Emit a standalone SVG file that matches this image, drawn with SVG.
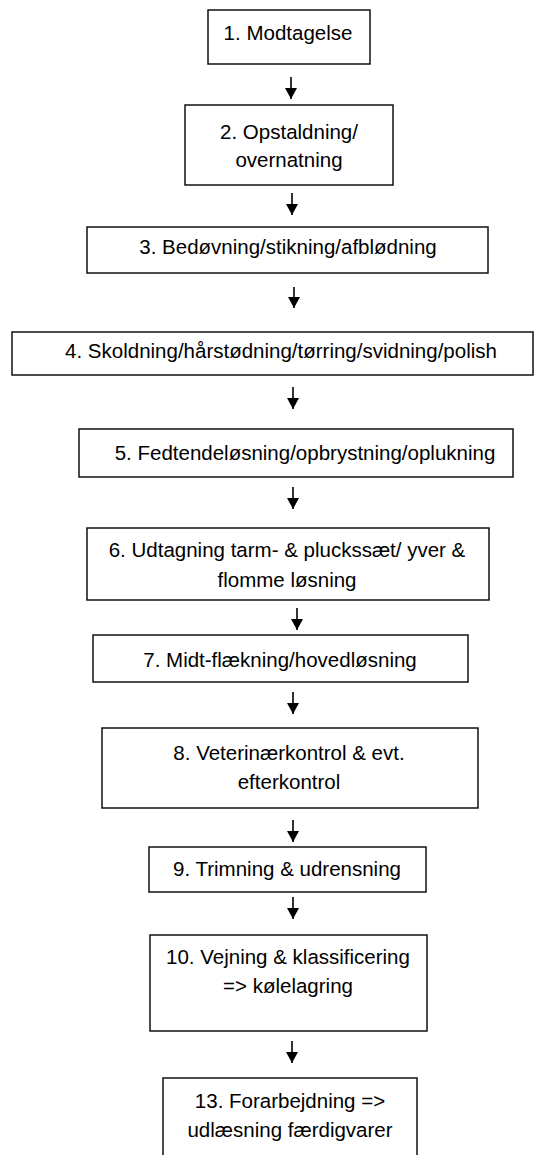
<svg xmlns="http://www.w3.org/2000/svg" width="534" height="1155" viewBox="0 0 534 1155">
<style>
  .box { fill: #ffffff; stroke: #111111; stroke-width: 1.5; }
  .lbl { font-family: "Liberation Sans", Arial, sans-serif; font-size: 20.5px; fill: #000000; text-anchor: middle; }
  .conn { stroke: #000000; stroke-width: 1.6; fill: none; }
</style>
<defs>
  <marker id="ah" viewBox="0 0 11 12" refX="11" refY="6" markerWidth="11" markerHeight="12" markerUnits="userSpaceOnUse" orient="auto">
    <path d="M0,0 L11,6 L0,12 z" fill="#000000"/>
  </marker>
</defs>
<rect x="0" y="0" width="534" height="1155" fill="#ffffff"/>

<g id="connectors">
  <line class="conn" x1="291" y1="77" x2="291" y2="99" marker-end="url(#ah)"/>
  <line class="conn" x1="292" y1="193" x2="292" y2="215" marker-end="url(#ah)"/>
  <line class="conn" x1="294" y1="287" x2="294" y2="308" marker-end="url(#ah)"/>
  <line class="conn" x1="293" y1="387" x2="293" y2="409" marker-end="url(#ah)"/>
  <line class="conn" x1="293" y1="487" x2="293" y2="509" marker-end="url(#ah)"/>
  <line class="conn" x1="297" y1="608" x2="297" y2="630" marker-end="url(#ah)"/>
  <line class="conn" x1="293" y1="692" x2="293" y2="714" marker-end="url(#ah)"/>
  <line class="conn" x1="293" y1="820" x2="293" y2="842" marker-end="url(#ah)"/>
  <line class="conn" x1="293" y1="897" x2="293" y2="919" marker-end="url(#ah)"/>
  <line class="conn" x1="292" y1="1041" x2="292" y2="1063" marker-end="url(#ah)"/>
</g>

<g id="n1">
  <rect class="box" x="208" y="10" width="162" height="54"/>
  <text class="lbl" x="288" y="40">1. Modtagelse</text>
</g>
<g id="n2">
  <rect class="box" x="185" y="105" width="208" height="80"/>
  <text class="lbl" x="289" y="139">2. Opstaldning/</text>
  <text class="lbl" x="289" y="167">overnatning</text>
</g>
<g id="n3">
  <rect class="box" x="87" y="227" width="401" height="46"/>
  <text class="lbl" x="288" y="254">3. Bedøvning/stikning/afblødning</text>
</g>
<g id="n4">
  <rect class="box" x="12" y="332" width="521" height="43"/>
  <text class="lbl" x="281" y="358">4. Skoldning/hårstødning/tørring/svidning/polish</text>
</g>
<g id="n5">
  <rect class="box" x="79" y="429" width="434" height="48"/>
  <text class="lbl" x="305" y="460">5. Fedtendeløsning/opbrystning/oplukning</text>
</g>
<g id="n6">
  <rect class="box" x="87" y="528" width="402" height="72"/>
  <text class="lbl" x="287" y="557">6. Udtagning tarm- &amp; pluckssæt/ yver &amp;</text>
  <text class="lbl" x="287" y="587">flomme løsning</text>
</g>
<g id="n7">
  <rect class="box" x="93" y="635" width="375" height="47"/>
  <text class="lbl" x="280" y="667">7. Midt-flækning/hovedløsning</text>
</g>
<g id="n8">
  <rect class="box" x="102" y="728" width="376" height="80"/>
  <text class="lbl" x="289" y="760">8. Veterinærkontrol &amp; evt.</text>
  <text class="lbl" x="289" y="789">efterkontrol</text>
</g>
<g id="n9">
  <rect class="box" x="149" y="847" width="277" height="45"/>
  <text class="lbl" x="287" y="876">9. Trimning &amp; udrensning</text>
</g>
<g id="n10">
  <rect class="box" x="150" y="935" width="277" height="96"/>
  <text class="lbl" x="288" y="964">10. Vejning &amp; klassificering</text>
  <text class="lbl" x="288" y="993">=&gt; kølelagring</text>
</g>
<g id="n13">
  <rect class="box" x="163" y="1078" width="254" height="90"/>
  <text class="lbl" x="290" y="1108">13. Forarbejdning =&gt;</text>
  <text class="lbl" x="290" y="1137">udlæsning færdigvarer</text>
</g>
</svg>
